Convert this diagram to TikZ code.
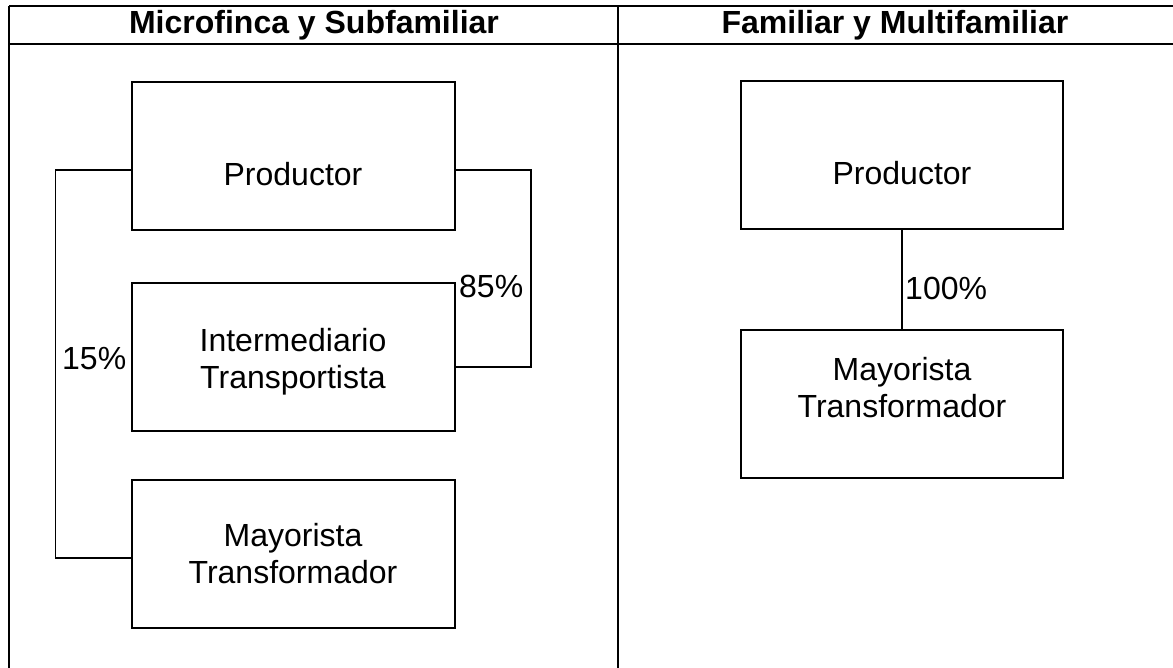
\documentclass[tikz,border=0pt]{standalone}
\usepackage{fontspec}
\setmainfont{Liberation Sans}
\usetikzlibrary{calc}
\begin{document}
\begin{tikzpicture}[x=1pt,y=-1pt,
  rule/.style={line width=2pt},
  stagebox/.style={draw,line width=2pt,rectangle,inner sep=0pt,
    minimum width=323pt,minimum height=148pt},
  stagetext/.style={font=\fontsize{32}{37}\selectfont,align=center,inner sep=0pt},
  pct/.style={font=\fontsize{32}{37}\selectfont,anchor=west,inner sep=0pt},
  headtitle/.style={font=\fontsize{32}{37}\selectfont\bfseries,inner sep=0pt},
  link/.style={line width=1.6pt}]

% canvas
\useasboundingbox[fill=white] (0,0) rectangle (1173,668);

% table frame: top rule, header rule, outer left edge, column divider
\coordinate (tl) at (9,6);
\coordinate (tr) at (1173,6);
\coordinate (hl) at (9,44);
\coordinate (hr) at (1173,44);
\coordinate (bl) at (9,668);
\coordinate (dt) at (618,6);
\coordinate (db) at (618,668);
\draw[rule] (tl) -- (tr);
\draw[rule] (hl) -- (hr);
\draw[rule] (tl) -- (bl);
\draw[rule] (dt) -- (db);

% column headings
\node[headtitle] (h1) at (314,25) {Microfinca y Subfamiliar};
\node[headtitle] (h2) at (895,25) {Familiar y Multifamiliar};

% left column: stages
\node[stagebox] (p1) at (293,155.75) {};
\node[stagebox] (i1) at (293,356.75) {};
\node[stagebox] (m1) at (293,554) {};
\node[stagetext] (p1t) at ($(p1.center)+(0,18)$) {Productor};
\node[stagetext] (i1t) at ($(i1.center)+(0,5)$) {Intermediario\\Transportista};
\node[stagetext] (m1t) at ($(m1.center)+(0,0)$) {Mayorista\\Transformador};

% left column: flows
\draw[link] ($(p1.west)+(0,14)$) -- ++(-75,0) |- ($(m1.west)+(0,4)$);
\draw[link] ($(p1.east)+(0,14)$) -- ++(75.5,0) |- ($(i1.east)+(0,10)$);
\node[pct] (l15) at (62,359) {15\%};
\node[pct] (l85) at (459,286) {85\%};

% right column: stages
\node[stagebox,minimum width=322pt] (p2) at (902,155.5) {};
\node[stagebox,minimum width=322pt] (m2) at (902,404) {};
\node[stagetext] (p2t) at ($(p2.center)+(0,18)$) {Productor};
\node[stagetext] (m2t) at ($(m2.center)+(0,-16)$) {Mayorista\\Transformador};

% right column: flow
\draw[link] (p2.south) -- (m2.north);
\node[pct] (l100) at (905,288) {100\%};
\end{tikzpicture}
\end{document}
